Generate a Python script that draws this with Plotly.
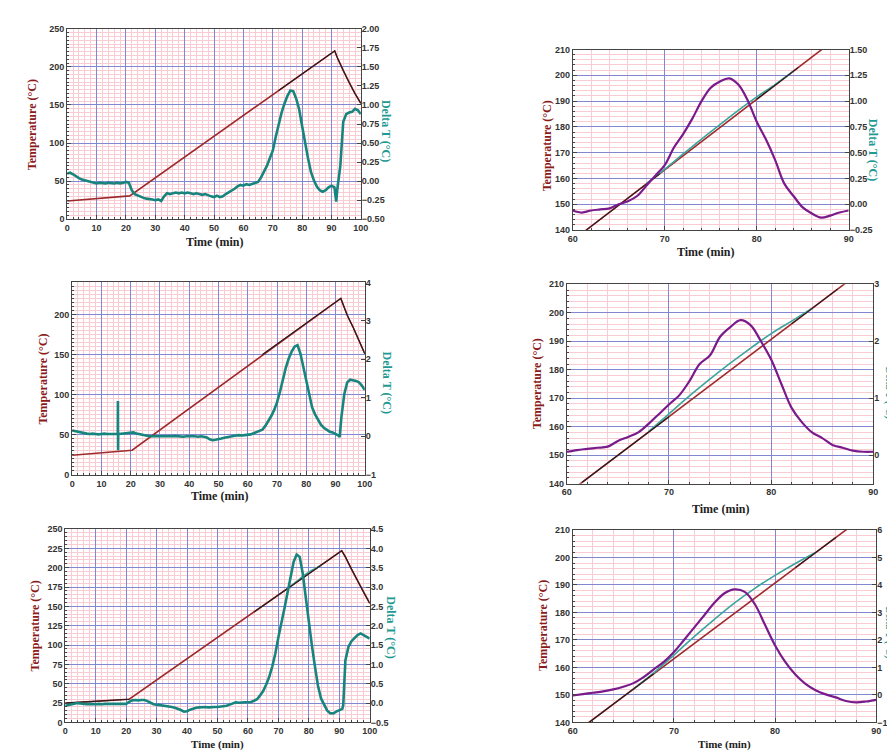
import plotly.graph_objects as go

W, H = 895, 751

# ---------------- Panel 1 (top-left) ----------------
p1_temp_t = [0, 21.3, 91.1, 92, 94, 96, 98, 100]
p1_temp = [24, 30.6, 221, 212, 195, 179, 165, 152]
p1_dark_t = [72, 91.1, 92, 94, 96, 98, 100]
p1_dark = [168.9, 221, 212, 195, 179, 165, 152]
p1_dt_t = list(range(0, 92)) + [91.6] + list(range(92, 101))
p1_dt = [0.10, 0.11, 0.09, 0.06, 0.04, 0.02, 0.01, 0.0, -0.01, -0.02,
         -0.03, -0.02, -0.03, -0.03, -0.02, -0.03, -0.03, -0.02, -0.03, -0.02,
         -0.01, -0.02, -0.12, -0.17, -0.19, -0.21, -0.22, -0.23, -0.24, -0.24,
         -0.25, -0.24, -0.26, -0.20, -0.16, -0.17, -0.16, -0.15, -0.16, -0.15,
         -0.16, -0.15, -0.16, -0.17, -0.16, -0.17, -0.18, -0.17, -0.19, -0.20,
         -0.21, -0.19, -0.21, -0.20, -0.17, -0.15, -0.13, -0.10, -0.07, -0.05,
         -0.06, -0.04, -0.05, -0.04, -0.03, -0.01, 0.05, 0.12, 0.20, 0.30,
         0.40, 0.58, 0.76, 0.90, 1.02, 1.12, 1.19, 1.18, 1.08, 0.94,
         0.72, 0.50, 0.30, 0.12, 0.01, -0.07, -0.12, -0.14, -0.12, -0.08,
         -0.06, -0.08,
         -0.27,
         -0.10, 0.20, 0.78, 0.88, 0.90, 0.91, 0.95, 0.93, 0.88]

# ---------------- Panel 3 (middle-left) ----------------
p3_temp_t = [0, 20.5, 91.8, 92, 94, 96, 98, 100]
p3_temp = [24.4, 30.6, 220, 218, 199, 184, 167, 151]
p3_dark_t = [65, 91.8, 92, 94, 96, 98, 100]
p3_dark = [150.0, 220, 218, 199, 184, 167, 151]
p3_dt_t = list(range(0, 16)) + [15.6, 15.65, 15.7, 15.75] + list(range(16, 92)) + [91.4] + list(range(92, 101))
p3_dt = [0.15, 0.13, 0.11, 0.09, 0.08, 0.07, 0.06, 0.07, 0.06, 0.05, 0.06, 0.07, 0.06, 0.06, 0.05, 0.06,
         0.06, 0.92, -0.36, 0.06,
         0.06, 0.07, 0.07, 0.08, 0.09, 0.10, 0.07, 0.05, 0.04, 0.02,
         0.01, 0.0, 0.0, -0.01, 0.0, 0.0, -0.01, 0.0, 0.0, 0.01,
         0.0, 0.0, -0.01, 0.0, 0.0, 0.01, 0.0, -0.01, 0.0, -0.01,
         -0.03, -0.08, -0.10, -0.09, -0.08, -0.06, -0.04, -0.02, 0.0, 0.02,
         0.02, 0.03, 0.02, 0.03, 0.04, 0.05, 0.08, 0.11, 0.13, 0.17,
         0.27, 0.38, 0.52, 0.68, 0.88, 1.15, 1.48, 1.78, 2.02, 2.20,
         2.33, 2.37, 2.15, 1.80, 1.42, 1.02, 0.75, 0.57, 0.42, 0.30,
         0.22, 0.16, 0.12, 0.10, 0.06, 0.02,
         -0.02,
         0.5, 1.1, 1.40, 1.47, 1.46, 1.44, 1.40, 1.32, 1.20]

# ---------------- Panel 5 (bottom-left) ----------------
p5_temp_t = [0, 21, 90.8, 92, 94, 96, 98, 100]
p5_temp = [25, 30, 222, 214, 198, 183, 168, 154]
p5_dark_t = [0, 21, None, 62, 90.8, 92, 94, 96, 98, 100]
p5_dark = [25, 30, None, 142.8, 222, 214, 198, 183, 168, 154]
p5_sample_t = [74, 76, 78, 80, 82, 84]
p5_sample = [175.8, 182.3, 188.8, 194.3, 198.8, 203.3]
p5_dt_t = list(range(0, 92)) + [91.3] + list(range(92, 101))
p5_dt = [-0.07, -0.05, -0.03, -0.02, 0.0, -0.01, -0.02, -0.03, -0.02, -0.03,
         -0.03, -0.02, -0.03, -0.02, -0.02, -0.02, -0.03, -0.02, -0.03, -0.03,
         -0.02, 0.03, 0.07, 0.08, 0.07, 0.08, 0.08, 0.05, 0.01, -0.03,
         -0.04, -0.05, -0.06, -0.07, -0.08, -0.10, -0.12, -0.14, -0.18, -0.22,
         -0.21, -0.17, -0.14, -0.12, -0.11, -0.10, -0.10, -0.11, -0.10, -0.10,
         -0.10, -0.09, -0.08, -0.07, -0.04, -0.01, 0.02, 0.01, 0.02, 0.02,
         0.02, 0.03, 0.06, 0.10, 0.20, 0.31, 0.48, 0.68, 0.95, 1.28,
         1.70, 2.05, 2.45, 2.85, 3.28, 3.65, 3.84, 3.78, 3.35, 2.70,
         2.05, 1.49, 0.95, 0.45, 0.12, -0.05, -0.19, -0.26, -0.27, -0.22,
         -0.19, -0.15,
         -0.05,
         1.10, 1.45, 1.60, 1.68, 1.76, 1.80, 1.75, 1.72, 1.67]

# ---------------- Zoomed panels (60-90 min) ----------------
zoom_t = list(range(60, 91))

p2_ref_t = [60, 90]
p2_ref = [136.0, 218.0]
p2_dark_t = [61.5, 69.5, None, 80, 84.5]
p2_dark = [140.1, 161.9, None, 190.7, 203.0]
p2_sample_t = [68, 70, 72, 74, 76, 78, 80, 82, 84]
p2_sample = [158.0, 163.6, 169.5, 175.3, 180.9, 186.4, 191.6, 196.4, 201.6]
p2_dt = [-0.06, -0.08, -0.06, -0.05, -0.04, 0.0, 0.03, 0.08, 0.18, 0.28, 0.38,
         0.55, 0.68, 0.83, 1.0, 1.13, 1.19, 1.22, 1.16, 1.01, 0.8,
         0.63, 0.43, 0.2, 0.08, -0.03, -0.09, -0.13, -0.11, -0.08, -0.06]

p4_ref_t = [60, 90]
p4_ref = [136.4, 217.8]
p4_dark_t = [61.5, 70, None, 82, 86.5]
p4_dark = [140.5, 163.5, None, 196.1, 208.3]
p4_sample_t = [68, 70, 72, 74, 76, 78, 80, 82, 84]
p4_sample = [158.3, 164.5, 170.8, 176.7, 182.3, 187.6, 192.7, 197.1, 201.5]
p4_dt = [0.06, 0.09, 0.11, 0.13, 0.15, 0.25, 0.32, 0.40, 0.55, 0.72, 0.89,
         1.05, 1.30, 1.60, 1.75, 2.08, 2.25, 2.37, 2.28, 2.0, 1.68,
         1.25, 0.83, 0.58, 0.40, 0.30, 0.18, 0.13, 0.08, 0.06, 0.06]

p6_ref_t = [60, 90]
p6_ref = [135.6, 218.3]
p6_dark_t = [61.5, 68, None, 82, 86]
p6_dark = [139.7, 157.7, None, 196.3, 207.3]
p6_sample_t = [66, 68, 70, 72, 74, 76, 78, 80, 82, 84]
p6_sample = [152.1, 158.0, 164.5, 171.2, 177.5, 183.5, 188.8, 193.5, 197.8, 201.8]
p6_dt = [-0.02, 0.03, 0.08, 0.13, 0.2, 0.3, 0.43, 0.65, 0.93, 1.2, 1.56,
         2.0, 2.45, 2.9, 3.35, 3.7, 3.84, 3.75, 3.3, 2.55, 1.8,
         1.2, 0.74, 0.4, 0.17, 0.02, -0.09, -0.22, -0.27, -0.24, -0.18]

# ---------------- styling ----------------
RED = "#9E2A2B"
DARK = "#2a1a1a"
TEAL = "#17857E"
TEAL_LT = "#3AA59C"
PURPLE = "#7A1B8C"
PINK = "#F9CCD3"
BLUE = "#8387CF"
AXLINE = "#444444"
TICKFONT = dict(family="Liberation Sans", size=9, color="#333333", weight="bold")
TITLEFONT = "Liberation Serif"

panels = [
    dict(box=(55, 353, 16, 209), xr=[0, 100], xd=10, xm=2, yr=[0, 250], yd=50, ym=5,
         y2r=[-0.5, 2.0], y2d=0.25, y2f=".2f", temp=(p1_temp_t, p1_temp), dark=(p1_dark_t, p1_dark),
         sample=None, dt=(p1_dt_t, p1_dt), dtcolor=TEAL, dtw=2.6,
         ttl_l=(20, 113), ttl_r=(378, 119), rsize=12, ttl_x=(204, 232), xsize=12),
    dict(box=(568, 848, 37, 220), xr=[60, 90], xd=10, xm=2, yr=[140, 210], yd=10, ym=2,
         y2r=[-0.25, 1.5], y2d=0.25, y2f=".2f", temp=(p2_ref_t, p2_ref), dark=(p2_dark_t, p2_dark),
         sample=(p2_sample_t, p2_sample), dt=(zoom_t, p2_dt), dtcolor=PURPLE, dtw=2.2,
         ttl_l=(542, 135), ttl_r=(873, 139), rsize=12, ttl_x=(703, 242), xsize=12),
    dict(box=(60, 357, 273, 468), xr=[0, 100], xd=10, xm=2, yr=[0, 240], yd=50, ym=5,
         y2r=[-1, 4], y2d=1, y2f="d", temp=(p3_temp_t, p3_temp), dark=(p3_dark_t, p3_dark),
         sample=None, dt=(p3_dt_t, p3_dt), dtcolor=TEAL, dtw=2.6,
         ttl_l=(30, 371), ttl_r=(380, 375), rsize=12, ttl_x=(210, 490), xsize=12),
    dict(box=(562, 873, 275, 477), xr=[60, 90], xd=10, xm=2, yr=[140, 210], yd=10, ym=2,
         y2r=[-0.5, 3], y2d=1, y2f="d", temp=(p4_ref_t, p4_ref), dark=(p4_dark_t, p4_dark),
         sample=(p4_sample_t, p4_sample), dt=(zoom_t, p4_dt), dtcolor=PURPLE, dtw=2.2,
         ttl_l=(532, 376), ttl_r=(889, 385), rsize=10, ttl_x=(718, 503), xsize=12),
    dict(box=(53, 362, 523, 719), xr=[0, 100], xd=10, xm=2, yr=[0, 250], yd=25, ym=5,
         y2r=[-0.5, 4.5], y2d=0.5, y2f=".1f", temp=(p5_temp_t, p5_temp), dark=(p5_dark_t, p5_dark),
         sample=(p5_sample_t, p5_sample), dt=(p5_dt_t, p5_dt), dtcolor=TEAL, dtw=2.6,
         ttl_l=(22, 621), ttl_r=(384, 623), rsize=12, ttl_x=(208, 741), xsize=11),
    dict(box=(568, 876, 524, 719), xr=[60, 90], xd=10, xm=2, yr=[140, 210], yd=10, ym=2,
         y2r=[-1, 6], y2d=1, y2f="d", temp=(p6_ref_t, p6_ref), dark=(p6_dark_t, p6_dark),
         sample=(p6_sample_t, p6_sample), dt=(zoom_t, p6_dt), dtcolor=PURPLE, dtw=2.2,
         ttl_l=(538, 621), ttl_r=(889, 628), rsize=10, ttl_x=(722, 741), xsize=11),
]

fig = go.Figure()
layout = dict(width=W, height=H, margin=dict(l=0, r=0, t=0, b=0),
              paper_bgcolor="white", plot_bgcolor="white", showlegend=False)
annotations = []

for i, p in enumerate(panels, start=1):
    xl, xr_, yt, yb = p["box"]
    xa = "x" if i == 1 else f"x{i}"
    ya_l = 2 * i - 1
    ya_r = 2 * i
    yl_name = "y" if ya_l == 1 else f"y{ya_l}"
    yr_name = f"y{ya_r}"

    layout[f"xaxis{'' if i == 1 else i}"] = dict(
        domain=[xl / W, xr_ / W], anchor=yl_name, range=p["xr"], dtick=p["xd"],
        showgrid=True, gridcolor=BLUE, gridwidth=1, zeroline=False,
        showline=True, mirror=True, linecolor=AXLINE, linewidth=1,
        ticks="inside", ticklen=4, tickcolor=AXLINE, tickfont=TICKFONT,
        minor=dict(dtick=p["xm"], showgrid=True, gridcolor=PINK, gridwidth=1,
                   ticks="inside", ticklen=2, tickcolor=AXLINE),
    )
    layout[f"yaxis{'' if ya_l == 1 else ya_l}"] = dict(
        domain=[1 - yb / H, 1 - yt / H], anchor=xa, range=p["yr"], dtick=p["yd"],
        showgrid=True, gridcolor=BLUE, gridwidth=1, zeroline=False,
        showline=True, mirror=True, linecolor=AXLINE, linewidth=1,
        ticks="inside", ticklen=4, tickcolor=AXLINE, tickfont=TICKFONT,
        minor=dict(dtick=p["ym"], showgrid=True, gridcolor=PINK, gridwidth=1,
                   ticks="inside", ticklen=2, tickcolor=AXLINE),
    )
    layout[f"yaxis{ya_r}"] = dict(
        overlaying=yl_name, side="right", anchor=xa, range=p["y2r"], dtick=p["y2d"],
        tickformat=p["y2f"], showgrid=False, zeroline=False,
        ticks="inside", ticklen=4, tickcolor=AXLINE, tickfont=TICKFONT,
    )

    # temperature (reference)
    fig.add_trace(go.Scatter(x=p["temp"][0], y=p["temp"][1], mode="lines",
                             line=dict(color=RED, width=1.6), xaxis=xa, yaxis=yl_name,
                             hoverinfo="skip"))
    if p["sample"] is not None:
        fig.add_trace(go.Scatter(x=p["sample"][0], y=p["sample"][1], mode="lines",
                                 line=dict(color=TEAL_LT, width=1.6, shape="spline"),
                                 xaxis=xa, yaxis=yl_name, hoverinfo="skip"))
    fig.add_trace(go.Scatter(x=p["dark"][0], y=p["dark"][1], mode="lines",
                             line=dict(color=DARK, width=1.1), xaxis=xa, yaxis=yl_name,
                             hoverinfo="skip", connectgaps=False))
    # Delta T
    shape = "spline" if p["dtcolor"] == PURPLE else "linear"
    fig.add_trace(go.Scatter(x=p["dt"][0], y=p["dt"][1], mode="lines",
                             line=dict(color=p["dtcolor"], width=p["dtw"], shape=shape),
                             xaxis=xa, yaxis=yr_name, hoverinfo="skip"))

    # axis titles
    annotations.append(dict(text="Temperature (°C)", x=p["ttl_l"][0] / W, y=1 - p["ttl_l"][1] / H,
                            xref="paper", yref="paper", showarrow=False, textangle=-90,
                            font=dict(family=TITLEFONT, size=12, color="#8B1A1A", weight="bold"),
                            xanchor="center", yanchor="middle"))
    annotations.append(dict(text="Delta T (°C)", x=p["ttl_r"][0] / W, y=1 - p["ttl_r"][1] / H,
                            xref="paper", yref="paper", showarrow=False, textangle=90,
                            font=dict(family=TITLEFONT, size=p["rsize"], color="#1F9A92", weight="bold"),
                            xanchor="center", yanchor="middle"))
    annotations.append(dict(text="Time (min)", x=p["ttl_x"][0] / W, y=1 - p["ttl_x"][1] / H,
                            xref="paper", yref="paper", showarrow=False,
                            font=dict(family=TITLEFONT, size=p["xsize"], color="#222222", weight="bold"),
                            xanchor="center", yanchor="middle"))

layout["annotations"] = annotations
fig.update_layout(**layout)
fig.write_html("out.html")
